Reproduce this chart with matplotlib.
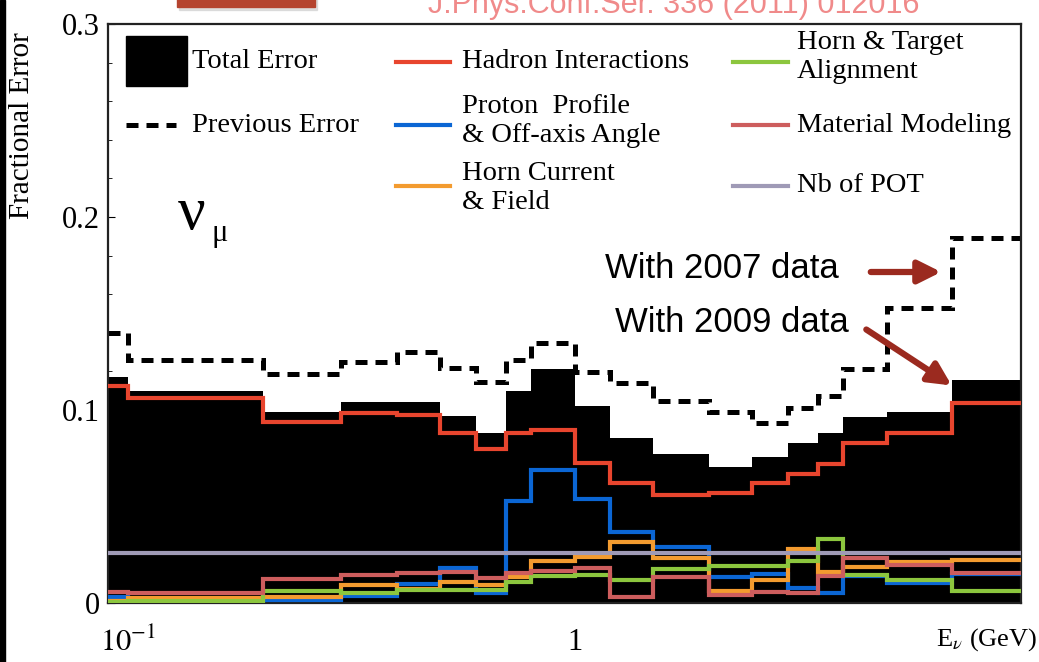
import matplotlib
matplotlib.use("Agg")
import matplotlib.pyplot as plt
from matplotlib.patches import Rectangle
from matplotlib.ticker import FixedLocator, MultipleLocator, NullLocator

plt.rcParams['font.family'] = ['Liberation Serif', 'DejaVu Serif']
plt.rcParams['mathtext.fontset'] = 'stix'

# Energy bin edges (GeV) and fractional errors per bin
edges = [0.09, 0.1, 0.2, 0.3, 0.4, 0.5, 0.6, 0.7, 0.8, 1.0, 1.2, 1.5,
         2.0, 2.5, 3.0, 3.5, 4.0, 5.0, 7.0, 10.0]
total_err = [0.117, 0.110, 0.099, 0.104, 0.104, 0.097, 0.088, 0.110, 0.121, 0.102,
             0.0855, 0.077, 0.0705, 0.0757, 0.083, 0.088, 0.0965, 0.099, 0.1155]
previous_err = [0.140, 0.126, 0.1187, 0.125, 0.130, 0.122, 0.1147, 0.126, 0.1348, 0.1197,
                0.114, 0.1047, 0.099, 0.0933, 0.101, 0.107, 0.121, 0.153, 0.189]
hadron = [0.1125, 0.106, 0.094, 0.0984, 0.0974, 0.088, 0.080, 0.088, 0.0896, 0.0725,
          0.062, 0.056, 0.057, 0.062, 0.067, 0.072, 0.083, 0.088, 0.1037]
proton_profile = [0.003, 0.0005, 0.0015, 0.0036, 0.0098, 0.018, 0.005, 0.053, 0.069, 0.054,
                  0.037, 0.029, 0.0135, 0.015, 0.008, 0.005, 0.014, 0.0104, 0.015]
horn_current = [0.001, 0.0025, 0.003, 0.0093, 0.007, 0.011, 0.0093, 0.0135, 0.022, 0.024,
                0.0316, 0.0233, 0.0062, 0.012, 0.028, 0.016, 0.0187, 0.021, 0.0225]
alignment = [0.0005, 0.001, 0.006, 0.005, 0.0065, 0.0067, 0.0067, 0.011, 0.014, 0.0145,
             0.012, 0.0176, 0.019, 0.019, 0.022, 0.033, 0.0145, 0.012, 0.0062]
material = [0.0057, 0.005, 0.0124, 0.0145, 0.0155, 0.016, 0.013, 0.0155, 0.0166, 0.018,
            0.003, 0.0135, 0.0042, 0.0057, 0.0052, 0.014, 0.0233, 0.0197, 0.0155]
pot = [0.026, 0.026, 0.026, 0.026, 0.026, 0.026, 0.026, 0.026, 0.026, 0.026,
       0.026, 0.026, 0.026, 0.026, 0.026, 0.026, 0.026, 0.026, 0.026]

C_RED = '#e8452e'
C_BLUE = '#0b66d4'
C_ORANGE = '#f39b2f'
C_GREEN = '#8cc63e'
C_PINK = '#cd5d5d'
C_PURPLE = '#9f9ab6'
C_ARROW = '#9b2a1f'

W, H = 1039, 662
fig = plt.figure(figsize=(W / 100, H / 100), dpi=100)
fig.patch.set_facecolor('white')
ax = fig.add_axes([108 / W, 1 - 603 / H, 913 / W, 579 / H])

ax.stairs(total_err, edges, fill=True, color='black', lw=0, zorder=1)
ax.stairs(previous_err, edges, baseline=None, color='black', lw=3.6,
          linestyle=(0, (2.4, 1.6)), zorder=2)
LW = 3.0
ax.stairs(hadron, edges, baseline=None, color=C_RED, lw=LW, zorder=3)
ax.stairs(proton_profile, edges, baseline=None, color=C_BLUE, lw=LW, zorder=3)
ax.stairs(horn_current, edges, baseline=None, color=C_ORANGE, lw=LW, zorder=3)
ax.stairs(alignment, edges, baseline=None, color=C_GREEN, lw=LW, zorder=3)
ax.stairs(material, edges, baseline=None, color=C_PINK, lw=LW, zorder=3)
ax.stairs(pot, edges, baseline=None, color=C_PURPLE, lw=LW, zorder=4)

ax.set_xscale('log')
ax.set_xlim(edges[0], edges[-1])
ax.set_ylim(0, 0.3)

ax.xaxis.set_major_locator(FixedLocator([0.1, 1.0]))
ax.xaxis.set_minor_locator(NullLocator())
ax.set_xticklabels([r'$10^{-1}$', '1'])
ax.tick_params(axis='x', length=0, pad=18, labelsize=22)

ax.yaxis.set_major_locator(FixedLocator([0, 0.1, 0.2, 0.3]))
ax.set_yticklabels(['0', '0.1', '0.2', '0.3'])
ax.yaxis.set_minor_locator(MultipleLocator(0.02))
ax.tick_params(axis='y', which='major', direction='in', length=5, labelsize=22, pad=6)
ax.tick_params(axis='y', which='minor', direction='in', length=3)

for side in ['left', 'top', 'right', 'bottom']:
    ax.spines[side].set_linewidth(1.6)
    ax.spines[side].set_color('#222222')

# legend keys, drawn in axes coordinates
def ax_xy(px, py):
    return (px - 108) / 913, (603 - py) / 579

tr = ax.transAxes
x0, y0 = ax_xy(126, 86)
ax.add_patch(Rectangle((x0, y0), 61 / 913, 50 / 579, transform=tr, color='black',
                       zorder=5, clip_on=False))
LEG_FS = 20.5

def key(px0, px1, py, **kw):
    xa, ya = ax_xy(px0, py)
    xb, _ = ax_xy(px1, py)
    ax.plot([xa, xb], [ya, ya], transform=tr, clip_on=False, zorder=5, **kw)

def label(px, py, s):
    xa, ya = ax_xy(px, py)
    ax.text(xa, ya, s, transform=tr, fontsize=LEG_FS, ha='left', va='center',
            linespacing=1.2, zorder=5)

label(192, 62, 'Total Error')
key(126, 176, 125, color='black', lw=3.6, linestyle=(0, (2.4, 1.6)))
label(192, 125, 'Previous Error')

key(396, 450, 62, color=C_RED, lw=LW)
label(462, 62, 'Hadron Interactions')
key(396, 450, 125, color=C_BLUE, lw=LW)
label(462, 121, 'Proton  Profile\n& Off-axis Angle')
key(396, 450, 186, color=C_ORANGE, lw=LW)
label(462, 188, 'Horn Current\n& Field')

key(733, 788, 62, color=C_GREEN, lw=LW)
label(797, 57, 'Horn & Target\nAlignment')
key(733, 788, 125, color=C_PINK, lw=LW)
label(797, 125, 'Material Modeling')
key(733, 788, 186, color=C_PURPLE, lw=LW)
label(797, 186, 'Nb of POT')

xa, ya = ax_xy(178, 214)
ax.text(xa, ya, 'ν', transform=tr, fontsize=44, ha='left', va='center', zorder=5)
xa, ya = ax_xy(211, 234)
ax.text(xa, ya, 'μ', transform=tr, fontsize=22, ha='left', va='center', zorder=5)

# annotations for the two data-taking periods
SANS = ['Liberation Sans', 'DejaVu Sans']
xa, ya = ax_xy(605, 268)
ax.text(xa, ya, 'With 2007 data', transform=tr, fontsize=25, family=SANS,
        ha='left', va='center', zorder=5)
xa, ya = ax_xy(615, 322)
ax.text(xa, ya, 'With 2009 data', transform=tr, fontsize=25, family=SANS,
        ha='left', va='center', zorder=5)
ax.annotate('', xy=ax_xy(944, 272), xytext=ax_xy(868, 272), xycoords='axes fraction',
            textcoords='axes fraction',
            arrowprops=dict(arrowstyle='-|>', color=C_ARROW, lw=4.5, mutation_scale=34),
            zorder=6)
ax.annotate('', xy=ax_xy(954, 387), xytext=ax_xy(864, 328), xycoords='axes fraction',
            textcoords='axes fraction',
            arrowprops=dict(arrowstyle='-|>', color=C_ARROW, lw=4.5, mutation_scale=34),
            zorder=6)

fig.text(22 / W, 1 - 126 / H, 'Fractional Error', rotation=90, fontsize=21,
         ha='center', va='center')
fig.text(1037 / W, 1 - 640 / H, r'E$_{\nu}$ (GeV)', fontsize=19, ha='right', va='center')

# page decorations around the figure
fig.patches.append(Rectangle((0, 0), 5 / W, 1, transform=fig.transFigure,
                             color='black', zorder=10))
fig.patches.append(Rectangle((179 / W, 1 - 10 / H), 138 / W, 12 / H,
                             transform=fig.transFigure, color='#cccccc', alpha=0.6, zorder=9))
fig.patches.append(Rectangle((177 / W, 1 - 7 / H), 138 / W, 9 / H,
                             transform=fig.transFigure, color='#b5442f', zorder=10))
fig.text(428 / W, 1 - 5 / H, 'J.Phys.Conf.Ser. 336 (2011) 012016', color='#f08a8a',
         fontsize=22, family=['Liberation Sans', 'DejaVu Sans'], ha='left', va='center')

fig.savefig('out.png', dpi=100)
